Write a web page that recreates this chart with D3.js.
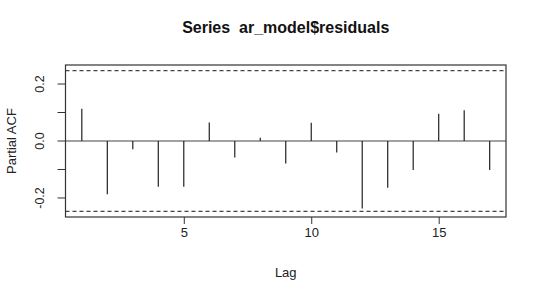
<!DOCTYPE html>
<html>
<head>
<meta charset="utf-8">
<script src="https://cdn.jsdelivr.net/npm/d3@7"></script>
<style>
  body { margin: 0; background: #fff; }
  svg { display: block; }
</style>
</head>
<body>
<div id="chart"></div>
<script>
// partial acf values
var lags = [1, 2, 3, 4, 5, 6, 7, 8, 9, 10, 11, 12, 13, 14, 15, 16, 17];
var pacf = [0.113, -0.187, -0.029, -0.161, -0.161, 0.065, -0.058, 0.011, -0.079,
            0.064, -0.040, -0.237, -0.164, -0.102, 0.096, 0.108, -0.102];
var clim = 0.247; // confidence bound
var xTicks = [5, 10, 15];
var yTicks = [-0.2, -0.1, 0.0, 0.1, 0.2];
var yTickLabels = ["-0.2", "", "0.0", "", "0.2"];

var W = 540, H = 299;
var margin = { left: 65.5, top: 65, right: 34, bottom: 82 };
var innerW = W - margin.left - margin.right;
var innerH = H - margin.top - margin.bottom;

var svg = d3.select("#chart").append("svg")
  .attr("width", W).attr("height", H)
  .attr("font-family", "'Liberation Sans', Arial, sans-serif");

// R style 4% expansion
var xr = [1, 17], xpad = (xr[1] - xr[0]) * 0.04;
var x = d3.scaleLinear().domain([xr[0] - xpad, xr[1] + xpad]).range([margin.left, margin.left + innerW]);
var ylo = Math.min(-clim, d3.min(pacf)), yhi = Math.max(clim, d3.max(pacf));
var ypad = (yhi - ylo) * 0.04;
var y = d3.scaleLinear().domain([ylo - ypad, yhi + ypad]).range([margin.top + innerH, margin.top]);

var ink = "#333";

// zero line
svg.append("line")
  .attr("x1", margin.left).attr("x2", margin.left + innerW)
  .attr("y1", y(0)).attr("y2", y(0))
  .attr("stroke", "#444").attr("stroke-width", 1.2);

// confidence lines
[clim, -clim].forEach(function (c) {
  svg.append("line")
    .attr("x1", margin.left).attr("x2", margin.left + innerW)
    .attr("y1", y(c)).attr("y2", y(c))
    .attr("stroke", "#444").attr("stroke-width", 1.2)
    .attr("stroke-dasharray", "4,3");
});

// spikes
svg.selectAll(".spike").data(lags).enter().append("line")
  .attr("class", "spike")
  .attr("x1", d => x(d)).attr("x2", d => x(d))
  .attr("y1", y(0)).attr("y2", (d, i) => y(pacf[i]))
  .attr("stroke", "#222").attr("stroke-width", 1.2);

// box
svg.append("rect")
  .attr("x", margin.left).attr("y", margin.top)
  .attr("width", innerW).attr("height", innerH)
  .attr("fill", "none").attr("stroke", ink).attr("stroke-width", 1.2);

// x axis
var xAxis = d3.axisBottom(x).tickValues(xTicks).tickSize(7).tickPadding(4).tickSizeOuter(0);
var gx = svg.append("g").attr("transform", "translate(0," + (margin.top + innerH) + ")").call(xAxis);
gx.select(".domain").remove();
gx.selectAll("line").attr("stroke", ink);
gx.selectAll("text").attr("font-size", 13).attr("fill", "#222").attr("font-family", null);

// y axis
var yAxis = d3.axisLeft(y).tickValues(yTicks).tickSize(8).tickFormat((d, i) => yTickLabels[i]);
var gy = svg.append("g").attr("transform", "translate(" + margin.left + ",0)").call(yAxis);
gy.select(".domain").remove();
gy.selectAll("line").attr("stroke", ink);
gy.selectAll("text")
  .attr("font-size", 12.5).attr("fill", "#222").attr("font-family", null)
  .attr("x", null).attr("dy", null)
  .attr("text-anchor", "middle")
  .attr("transform", d => "translate(-22," + y(d) + ") rotate(-90)")
  .attr("y", 0);
gy.selectAll(".tick").attr("transform", "translate(0,0)");
gy.selectAll(".tick line").attr("y1", d => y(d)).attr("y2", d => y(d)).attr("x2", -8);

// title
svg.append("text")
  .attr("x", margin.left + innerW / 2).attr("y", 33)
  .attr("text-anchor", "middle").attr("font-size", 16).attr("font-weight", "bold")
  .attr("fill", "#111")
  .style("white-space", "pre")
  .text("Series  ar_model$residuals");

// axis labels
svg.append("text")
  .attr("x", margin.left + innerW / 2).attr("y", 277)
  .attr("text-anchor", "middle").attr("font-size", 13).attr("fill", "#222")
  .text("Lag");

svg.append("text")
  .attr("transform", "translate(16," + y(0) + ") rotate(-90)")
  .attr("text-anchor", "middle").attr("font-size", 13).attr("fill", "#222")
  .text("Partial ACF");
</script>
</body>
</html>
